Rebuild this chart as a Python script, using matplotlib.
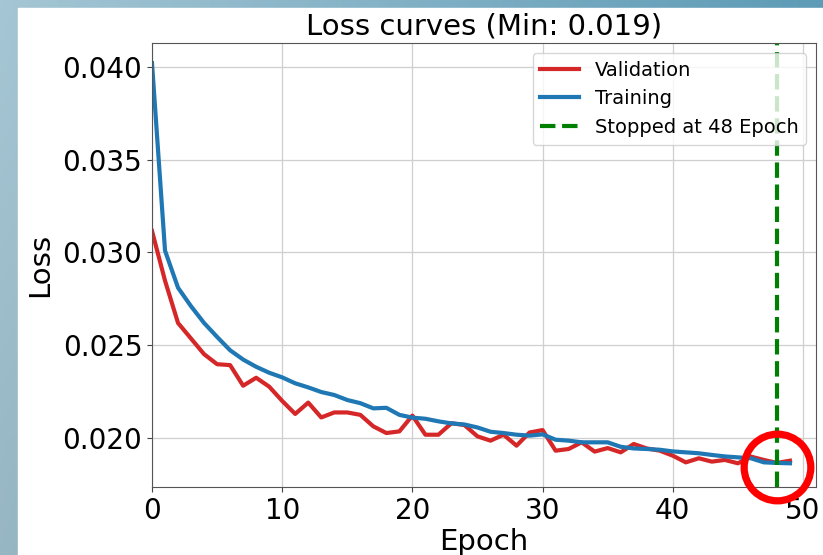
import matplotlib
matplotlib.use("Agg")
import matplotlib.pyplot as plt
import numpy as np

# valeurs (epochs 0..49)
epochs = list(range(50))
val_loss = [0.03116, 0.02848, 0.0262, 0.02536, 0.02452, 0.02398, 0.02393, 0.02282, 0.02325, 0.02277,
            0.0220, 0.0213, 0.02191, 0.02111, 0.02138, 0.02138, 0.02125, 0.02063, 0.02027, 0.02036,
            0.02121, 0.02018, 0.02018, 0.0208, 0.0207, 0.02009, 0.01986, 0.02018, 0.01959, 0.0203,
            0.02043, 0.01932, 0.01941, 0.01977, 0.01927, 0.01946, 0.01923, 0.01968, 0.01944, 0.01932,
            0.01905, 0.01869, 0.01891, 0.01873, 0.01882, 0.01864, 0.0190, 0.01882, 0.01866, 0.01878]
train_loss = [0.0402, 0.0301, 0.0281, 0.0271, 0.0262, 0.02545, 0.02473, 0.02423, 0.02384, 0.02352,
              0.02327, 0.02295, 0.02273, 0.02248, 0.02232, 0.02205, 0.02188, 0.0216, 0.02163, 0.02125,
              0.0211, 0.02104, 0.0209, 0.02079, 0.02073, 0.02057, 0.02034, 0.02027, 0.02018, 0.02013,
              0.0202, 0.01991, 0.01986, 0.01977, 0.01977, 0.01977, 0.01953, 0.01944, 0.01941, 0.01937,
              0.01928, 0.01923, 0.01918, 0.01909, 0.01901, 0.01896, 0.01891, 0.01869, 0.01866, 0.01864]
stop_epoch = 48
circle_y = 0.01845  # centre du cercle rouge ajouté sur la capture

W, H = 823, 555
fig = plt.figure(figsize=(W / 100, H / 100), dpi=100)

# fond de la capture d'écran (dégradé bleu) + zone blanche
bg = fig.add_axes([0, 0, 1, 1])
gx = np.linspace(0, 1, 200)
gy = np.linspace(0, 1, 100)
GX, GY = np.meshgrid(gx, gy)
c_left = np.array([165, 198, 212]) / 255
c_right = np.array([93, 155, 182]) / 255
grad = c_left[None, None, :] * (1 - GX[..., None]) + c_right[None, None, :] * GX[..., None]
grad = grad * (1 - 0.08 * GY[..., None])
bg.imshow(grad, extent=[0, 1, 0, 1], aspect="auto", origin="upper")
bg.add_patch(plt.Rectangle((18 / W, 0), 1, 1 - 8 / H, color="white"))
bg.set_xlim(0, 1)
bg.set_ylim(0, 1)
bg.axis("off")

ax = fig.add_axes([152 / W, 1 - 487 / H, (816 - 152) / W, (487 - 43) / H])
ax.plot(epochs, val_loss, color="tab:red", lw=3, label="Validation")
ax.plot(epochs, train_loss, color="tab:blue", lw=3, label="Training")
ax.axvline(stop_epoch, color="green", ls="--", lw=3, label=f"Stopped at {stop_epoch} Epoch")
ax.plot([stop_epoch], [circle_y], marker="o", ms=48, mew=5.2, mfc="none", mec="red",
        clip_on=False, zorder=10)

ax.set_xlim(0, 51)
ax.set_xticks([0, 10, 20, 30, 40, 50])
ax.set_yticks([0.020, 0.025, 0.030, 0.035, 0.040])
ax.yaxis.set_major_formatter(matplotlib.ticker.FormatStrFormatter("%.3f"))
ax.tick_params(labelsize=20, color="#444444")
for sp in ax.spines.values():
    sp.set_color("#555555")
ax.grid(True, color="#cfcfcf", lw=0.9)
ax.set_title(f"Loss curves (Min: {min(val_loss):.3f})", fontsize=21)
ax.set_xlabel("Epoch", fontsize=21, labelpad=2)
ax.set_ylabel("Loss", fontsize=21, labelpad=6)
ax.legend(loc="upper right", fontsize=14)

fig.savefig("out.png", dpi=100)
